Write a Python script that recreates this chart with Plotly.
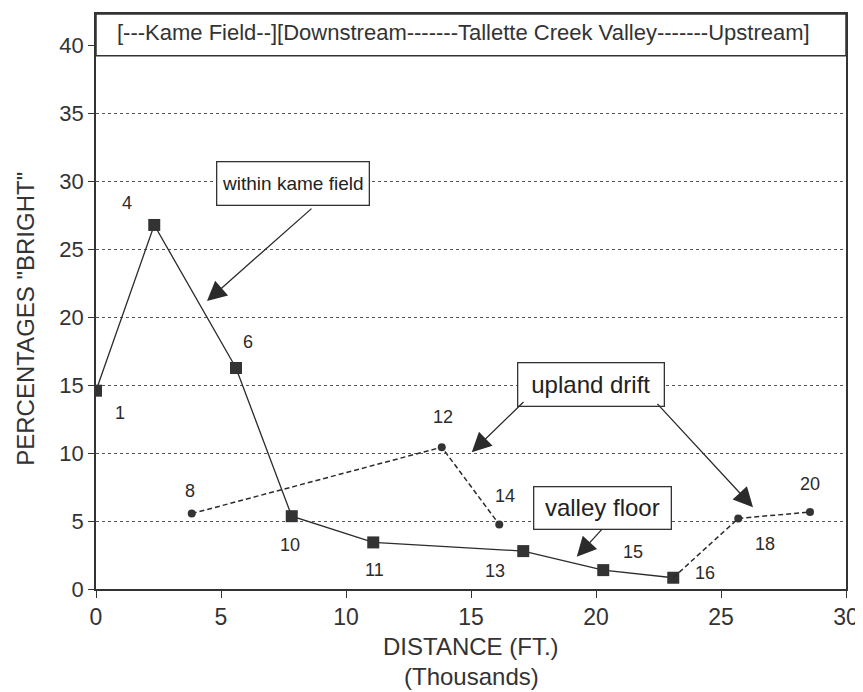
import plotly.graph_objects as go

# ---- data ----
solid_ids = ["1", "4", "6", "10", "11", "13", "15", "16"]
solid_x = [0.0, 2.33, 5.6, 7.83, 11.09, 17.09, 20.29, 23.09]
solid_y = [14.6, 26.8, 16.27, 5.36, 3.43, 2.79, 1.39, 0.83]

drift_ids = ["8", "12", "14", "18", "20"]
drift_x = [3.83, 13.83, 16.13, 25.69, 28.56]
drift_y = [5.55, 10.44, 4.75, 5.19, 5.67]

x_ticks = [0, 5, 10, 15, 20, 25, 30]
y_ticks = [0, 5, 10, 15, 20, 25, 30, 35, 40]

header_text = "[---Kame Field--][Downstream-------Tallette Creek Valley-------Upstream]"
box_texts = ["within kame field", "upland drift", "valley floor"]

# label offsets in pixels (dx, dy up)
solid_off = {"1": (24, -22), "4": (-27, 22), "6": (12, 26), "10": (-2, -29),
             "11": (1, -28), "13": (-28, -20), "15": (30, 18), "16": (32, 5)}
drift_off = {"8": (-2, 23), "12": (1, 30), "14": (6, 28), "18": (27, -25), "20": (0, 28)}

INK = "#2b2b2b"
FONT = "Liberation Sans, Arial, sans-serif"

fig = go.Figure()

# solid valley-floor / kame series
fig.add_trace(go.Scatter(
    x=solid_x, y=solid_y, mode="lines+markers",
    line=dict(color=INK, width=1.3),
    marker=dict(symbol="square", size=12, color="#333333"),
    hoverinfo="skip", showlegend=False))

# dashed upland drift series (two runs; second starts from last solid point)
dash_x = drift_x[:3] + [None] + [solid_x[-1]] + drift_x[3:]
dash_y = drift_y[:3] + [None] + [solid_y[-1]] + drift_y[3:]
fig.add_trace(go.Scatter(
    x=dash_x, y=dash_y, mode="lines", connectgaps=False,
    line=dict(color=INK, width=1.5, dash="5px,3px"),
    hoverinfo="skip", showlegend=False))
fig.add_trace(go.Scatter(
    x=drift_x, y=drift_y, mode="markers",
    marker=dict(symbol="circle", size=8, color="#333333"),
    hoverinfo="skip", showlegend=False))

ann = []
for ids, xs, ys, offs in ((solid_ids, solid_x, solid_y, solid_off),
                          (drift_ids, drift_x, drift_y, drift_off)):
    for i, xx, yy in zip(ids, xs, ys):
        dx, dy = offs[i]
        ann.append(dict(x=xx, y=yy, xref="x", yref="y", text=i, showarrow=False,
                        xshift=dx, yshift=dy, font=dict(family=FONT, size=18, color=INK)))

# text boxes: (center x, center y, box width px, box height px, font size)
box_geom = [(7.86, 29.82, 154, 45, 19), (19.79, 15.02, 148, 45, 24),
            (20.25, 5.94, 139, 44, 24)]
for t, (bx, by, bw, bh, fs) in zip(box_texts, box_geom):
    ann.append(dict(x=bx, y=by, xref="x", yref="y", text=t, showarrow=False,
                    font=dict(family=FONT, size=fs, color="#222"),
                    width=bw - 9, height=bh - 9, align="center", valign="middle",
                    bordercolor="#333", borderwidth=1.3, borderpad=3, bgcolor="white"))

# arrows (tip x,y ; tail ax,ay)
arrows = [(4.44, 21.2, 8.68, 28.1), (15.03, 10.07, 17.16, 13.87),
          (26.28, 6.02, 22.4, 13.74), (19.23, 2.37, 20.28, 4.48)]
for x1, y1, x0, y0 in arrows:
    ann.append(dict(x=x1, y=y1, ax=x0, ay=y0, xref="x", yref="y", axref="x", ayref="y",
                    text="", showarrow=True, arrowhead=2, arrowsize=3, arrowwidth=1.3,
                    arrowcolor=INK, standoff=0, startstandoff=0))

# header text
ann.append(dict(x=14.7, y=41.0, xref="x", yref="y", text=header_text, showarrow=False,
                font=dict(family=FONT, size=22, color="#333")))

# axis titles
ann.append(dict(x=-0.0933, y=0.47, xref="paper", yref="paper", text='PERCENTAGES "BRIGHT"',
                textangle=-90, showarrow=False, xanchor="center", yanchor="middle",
                font=dict(family=FONT, size=24, color="#333")))
ann.append(dict(x=0.5, y=-0.1, xref="paper", yref="paper", text="DISTANCE (FT.)",
                showarrow=False, yanchor="middle", font=dict(family=FONT, size=24, color="#333")))
ann.append(dict(x=0.5, y=-0.152, xref="paper", yref="paper", text="(Thousands)",
                showarrow=False, yanchor="middle", font=dict(family=FONT, size=24, color="#333")))

# page body has an 8px default margin, so the figure is sized/offset to compensate
fig.update_layout(
    width=855, height=684,
    margin=dict(l=88, r=17, t=4, b=103),
    paper_bgcolor="white", plot_bgcolor="white",
    annotations=ann,
    shapes=[dict(type="rect", xref="x", yref="y", x0=0, x1=30, y0=39.25, y1=42.33,
                 line=dict(color="#333", width=1.5), fillcolor="white", layer="between")],
)
fig.update_xaxes(range=[0, 30], tickvals=x_ticks, showgrid=False, zeroline=False,
                 showline=True, linecolor="#333", linewidth=1.5, mirror=True,
                 ticks="outside", ticklen=7, tickcolor="#333",
                 tickfont=dict(family=FONT, size=23, color="#333"))
fig.update_yaxes(range=[0, 42.33], tickvals=y_ticks, showgrid=True, gridcolor="#555",
                 griddash="dot", gridwidth=1, zeroline=False,
                 showline=True, linecolor="#333", linewidth=1.5, mirror=True,
                 ticks="outside", ticklen=6, tickcolor="#333",
                 tickfont=dict(family=FONT, size=22, color="#333"))

fig.write_html("out.html")
